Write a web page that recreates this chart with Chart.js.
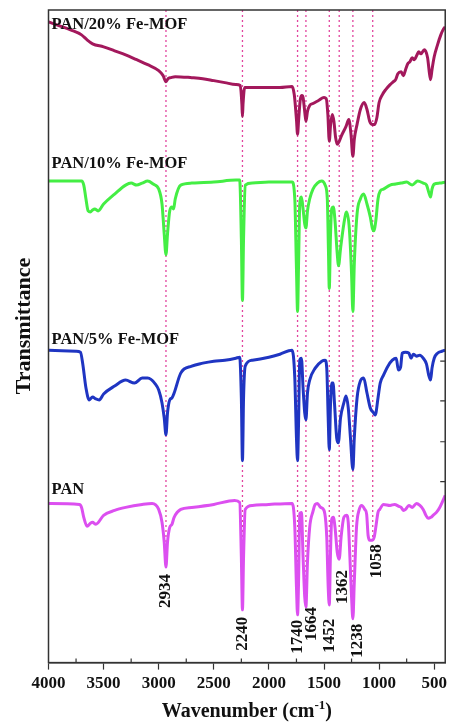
<!DOCTYPE html>
<html>
<head>
<meta charset="utf-8">
<script src="https://cdn.jsdelivr.net/npm/chart.js@4"></script>
<style>
  html, body { margin: 0; padding: 0; background: #fff; }
  #wrap { width: 451px; height: 722px; }
</style>
</head>
<body>
<div id="wrap"><canvas id="ftirChart"></canvas></div>
<script>
// wavenumber axis ticks (cm-1)
const wavenumberTicks = [4000, 3500, 3000, 2500, 2000, 1500, 1000, 500];
const minorTicks = [3750, 3250, 2750, 2250, 1750, 1250, 750];
const rightTicks = [182, 222, 263, 303];

// series names
const seriesNames = ["PAN/20% Fe-MOF", "PAN/10% Fe-MOF", "PAN/5% Fe-MOF", "PAN"];

// PAN/20% Fe-MOF (transmittance, offset a.u.)
const pan20Wn = [4000, 3900, 3800, 3700, 3650, 3600, 3500, 3400, 3300, 3200, 3100, 3000, 2960, 2934, 2915, 2890, 2850, 2700, 2600, 2500, 2400, 2300, 2260, 2245, 2240, 2235, 2220, 2150, 2000, 1900, 1790, 1770, 1750, 1740, 1730, 1715, 1700, 1690, 1675, 1664, 1650, 1630, 1600, 1550, 1500, 1480, 1465, 1452, 1440, 1425, 1410, 1395, 1380, 1362, 1340, 1300, 1275, 1255, 1238, 1225, 1200, 1170, 1135, 1110, 1085, 1060, 1040, 1020, 1000, 970, 940, 900, 870, 850, 830, 800, 780, 760, 740, 720, 700, 680, 660, 640, 620, 590, 560, 545, 533, 520, 500, 470, 440, 420, 400];
const pan20T = [644, 640, 636, 631, 626, 622, 619, 615, 611, 606, 601, 595, 590, 584, 587, 588, 589, 588, 587, 585, 583, 581, 580, 561, 549, 561, 578, 578, 578, 578, 579, 571, 546, 531, 546, 566, 570, 568, 554, 544, 554, 560, 562, 565, 568, 567, 551, 524, 541, 551, 544, 528, 521, 524, 530, 539, 546, 531, 509, 526, 541, 556, 563, 556, 544, 541, 541, 548, 563, 571, 576, 581, 584, 586, 592, 594, 590, 596, 602, 604, 608, 606, 610, 614, 612, 616, 608, 594, 586, 596, 609, 621, 631, 636, 639];

// PAN/10% Fe-MOF
const pan10Wn = [4000, 3700, 3680, 3660, 3640, 3620, 3600, 3580, 3550, 3500, 3400, 3300, 3250, 3200, 3150, 3100, 3050, 3000, 2970, 2950, 2934, 2920, 2900, 2880, 2865, 2850, 2800, 2700, 2500, 2300, 2265, 2250, 2240, 2230, 2215, 2150, 2000, 1790, 1765, 1750, 1740, 1730, 1720, 1705, 1690, 1675, 1664, 1650, 1630, 1600, 1560, 1520, 1490, 1470, 1460, 1452, 1442, 1430, 1415, 1400, 1380, 1368, 1350, 1320, 1295, 1270, 1250, 1238, 1225, 1200, 1170, 1140, 1110, 1080, 1060, 1048, 1030, 1010, 990, 960, 900, 850, 800, 750, 700, 650, 600, 570, 550, 533, 520, 500, 450, 400];
const pan10T = [484, 484, 480, 466, 454, 453, 455, 456, 454, 461, 471, 480, 482, 480, 482, 484, 481, 476, 461, 431, 410, 431, 454, 458, 456, 466, 480, 482, 483, 485, 485, 426, 364, 426, 480, 482, 483, 483, 466, 396, 353, 406, 461, 468, 456, 441, 437, 454, 466, 476, 482, 484, 480, 466, 416, 376, 426, 456, 458, 444, 411, 399, 416, 441, 453, 436, 391, 353, 401, 451, 466, 471, 461, 448, 436, 434, 444, 466, 474, 476, 480, 481, 482, 483, 480, 484, 482, 480, 473, 468, 476, 481, 482, 483];

// PAN/5% Fe-MOF
const pan5Wn = [4000, 3750, 3710, 3690, 3660, 3630, 3600, 3570, 3540, 3500, 3400, 3300, 3220, 3150, 3100, 3030, 3000, 2970, 2950, 2934, 2920, 2900, 2880, 2860, 2800, 2700, 2600, 2500, 2400, 2300, 2265, 2250, 2240, 2230, 2215, 2150, 2000, 1900, 1790, 1765, 1750, 1740, 1730, 1720, 1705, 1690, 1675, 1664, 1650, 1630, 1580, 1520, 1490, 1475, 1462, 1452, 1442, 1430, 1418, 1405, 1385, 1370, 1350, 1320, 1300, 1280, 1260, 1238, 1225, 1200, 1170, 1140, 1110, 1080, 1050, 1035, 1010, 990, 960, 920, 880, 845, 825, 805, 790, 760, 730, 710, 690, 660, 630, 600, 570, 550, 533, 520, 500, 470, 430, 400];
const pan5T = [314, 313, 312, 301, 276, 264, 267, 265, 264, 270, 278, 284, 281, 286, 286, 280, 274, 261, 246, 229, 251, 264, 266, 271, 291, 298, 301, 303, 304, 306, 307, 266, 203, 266, 298, 304, 307, 310, 314, 286, 226, 203, 246, 304, 306, 276, 251, 244, 271, 284, 296, 303, 304, 296, 246, 214, 256, 281, 281, 261, 226, 221, 246, 261, 268, 256, 226, 194, 226, 266, 283, 286, 271, 256, 251, 249, 266, 281, 289, 298, 304, 306, 294, 297, 311, 312, 311, 306, 310, 308, 309, 306, 300, 289, 284, 296, 306, 311, 313, 314];

// PAN
const panWn = [4000, 3720, 3700, 3680, 3650, 3620, 3600, 3570, 3500, 3400, 3300, 3150, 3060, 3000, 2970, 2950, 2934, 2920, 2900, 2880, 2860, 2800, 2700, 2500, 2310, 2265, 2250, 2240, 2230, 2215, 2150, 2000, 1790, 1765, 1750, 1740, 1730, 1720, 1705, 1690, 1675, 1664, 1650, 1630, 1600, 1580, 1560, 1530, 1500, 1475, 1462, 1452, 1442, 1430, 1415, 1400, 1380, 1362, 1345, 1320, 1295, 1280, 1265, 1250, 1238, 1225, 1205, 1180, 1158, 1130, 1113, 1100, 1085, 1060, 1045, 1030, 1010, 994, 960, 900, 860, 820, 800, 780, 760, 730, 700, 660, 630, 600, 575, 555, 530, 510, 480, 450, 420, 400];
const panT = [160, 159, 156, 146, 137, 140, 141, 139, 148, 153, 156, 159, 160, 154, 141, 121, 96, 121, 136, 139, 146, 154, 156, 159, 163, 161, 106, 53, 106, 154, 158, 159, 160, 136, 76, 48, 86, 150, 151, 106, 66, 56, 101, 136, 152, 159, 160, 156, 153, 126, 76, 58, 106, 144, 146, 136, 111, 104, 126, 146, 148, 141, 106, 66, 44, 81, 136, 154, 158, 154, 149, 128, 123, 123, 126, 136, 151, 154, 159, 158, 159, 157, 156, 153, 154, 158, 156, 160, 158, 154, 148, 145, 146, 148, 151, 156, 163, 168];

// marked peaks
const peakWn = [2934, 2240, 1740, 1664, 1452, 1362, 1238, 1058];
const peakLabels = ["2934", "2240", "1740", "1664", "1452", "1362", "1238", "1058"];
const peakLineEnd = [96, 53, 48, 56, 58, 104, 44, 123];

// placement of text (kept apart from the data)
const peakLabelX = [2934, 2240, 1740, 1616, 1452, 1329, 1194, 1024];
const peakLabelTop = [89, 46, 43, 56, 44, 93, 39, 119];
const seriesLabelX = 3972;
const seriesLabelY = [641, 501, 325, 174];

const colors = ["#a3185c", "#44ee44", "#1f35c2", "#dc4ff0"];
const peakColor = "#e2449e";
const serif = "'Liberation Serif', 'Times New Roman', serif";

function toPoints(xs, ys) {
  return xs.map((x, i) => ({ x: x, y: ys[i] }));
}

const curves = [
  [pan20Wn, pan20T],
  [pan10Wn, pan10T],
  [pan5Wn, pan5T],
  [panWn, panT],
].map(([xs, ys], i) => ({
  label: seriesNames[i],
  data: toPoints(xs, ys),
  borderColor: colors[i],
  borderWidth: 3,
  pointRadius: 0,
  cubicInterpolationMode: "monotone",
  fill: false,
}));

const peakLines = peakWn.map((w, i) => ({
  label: "peak " + peakLabels[i],
  data: [{ x: w, y: 656 }, { x: w, y: peakLineEnd[i] }],
  borderColor: peakColor,
  borderWidth: 1.3,
  borderDash: [2, 3],
  pointRadius: 0,
  fill: false,
}));

const overlay = {
  id: "overlay",
  afterDatasetsDraw(chart) {
    const { ctx, scales: { x, y } } = chart;
    ctx.save();
    ctx.fillStyle = "#111";

    // peak numbers, rotated
    ctx.font = "bold 17px " + serif;
    ctx.textAlign = "right";
    ctx.textBaseline = "middle";
    peakLabels.forEach((t, i) => {
      ctx.save();
      ctx.translate(x.getPixelForValue(peakLabelX[i]), y.getPixelForValue(peakLabelTop[i]));
      ctx.rotate(-Math.PI / 2);
      ctx.fillText(t, 0, 0);
      ctx.restore();
    });

    // series names
    ctx.font = "bold 16.5px " + serif;
    ctx.textAlign = "left";
    seriesNames.forEach((t, i) => {
      ctx.fillText(t, x.getPixelForValue(seriesLabelX), y.getPixelForValue(seriesLabelY[i]));
    });
    ctx.restore();
  },
  afterDraw(chart) {
    const { ctx, chartArea: a, scales: { x, y } } = chart;
    ctx.save();
    ctx.strokeStyle = "#333";
    ctx.lineWidth = 1.5;
    ctx.strokeRect(a.left, a.top, a.right - a.left, a.bottom - a.top);

    // minor ticks point inward
    ctx.lineWidth = 1.2;
    ctx.beginPath();
    minorTicks.forEach((v) => {
      const px = x.getPixelForValue(v);
      ctx.moveTo(px, a.bottom);
      ctx.lineTo(px, a.bottom - 4);
    });
    rightTicks.forEach((v) => {
      const py = y.getPixelForValue(v);
      ctx.moveTo(a.right, py);
      ctx.lineTo(a.right - 5, py);
    });
    ctx.stroke();

    // axis titles
    ctx.fillStyle = "#111";
    ctx.textBaseline = "alphabetic";
    const main = "Wavenumber (cm";
    const sup = "-1";
    ctx.font = "bold 20px " + serif;
    const w1 = ctx.measureText(main).width;
    const w3 = ctx.measureText(")").width;
    ctx.font = "bold 13px " + serif;
    const w2 = ctx.measureText(sup).width;
    const sx = (a.left + a.right) / 2 - (w1 + w2 + w3) / 2;
    const base = 717;
    ctx.textAlign = "left";
    ctx.font = "bold 20px " + serif;
    ctx.fillText(main, sx, base);
    ctx.font = "bold 13px " + serif;
    ctx.fillText(sup, sx + w1, base - 8);
    ctx.font = "bold 20px " + serif;
    ctx.fillText(")", sx + w1 + w2, base);

    ctx.save();
    ctx.translate(30, 326);
    ctx.rotate(-Math.PI / 2);
    ctx.textAlign = "center";
    ctx.font = "bold 22px " + serif;
    ctx.fillText("Transmittance", 0, 0);
    ctx.restore();
    ctx.restore();
  },
};

new Chart(document.getElementById("ftirChart"), {
  type: "line",
  data: { datasets: curves.concat(peakLines) },
  options: {
    responsive: true,
    maintainAspectRatio: false,
    animation: false,
    layout: { padding: { left: 48.5, right: 1.6, top: 10, bottom: 24 } },
    plugins: { legend: { display: false }, tooltip: { enabled: false } },
    scales: {
      x: {
        type: "linear",
        reverse: true,
        min: 400,
        max: 4000,
        afterBuildTicks: (axis) => {
          axis.ticks = wavenumberTicks.map((v) => ({ value: v }));
        },
        ticks: {
          callback: (v) => String(v),
          color: "#111",
          padding: 4,
          maxRotation: 0,
          autoSkip: false,
          font: { family: serif, size: 17, weight: "bold" },
        },
        grid: { drawOnChartArea: false, tickLength: 7, tickColor: "#333", tickWidth: 1.2 },
        border: { display: true, color: "#333", width: 1.5 },
      },
      y: { display: false, min: 0, max: 656 },
    },
  },
  plugins: [overlay],
});
</script>
</body>
</html>
